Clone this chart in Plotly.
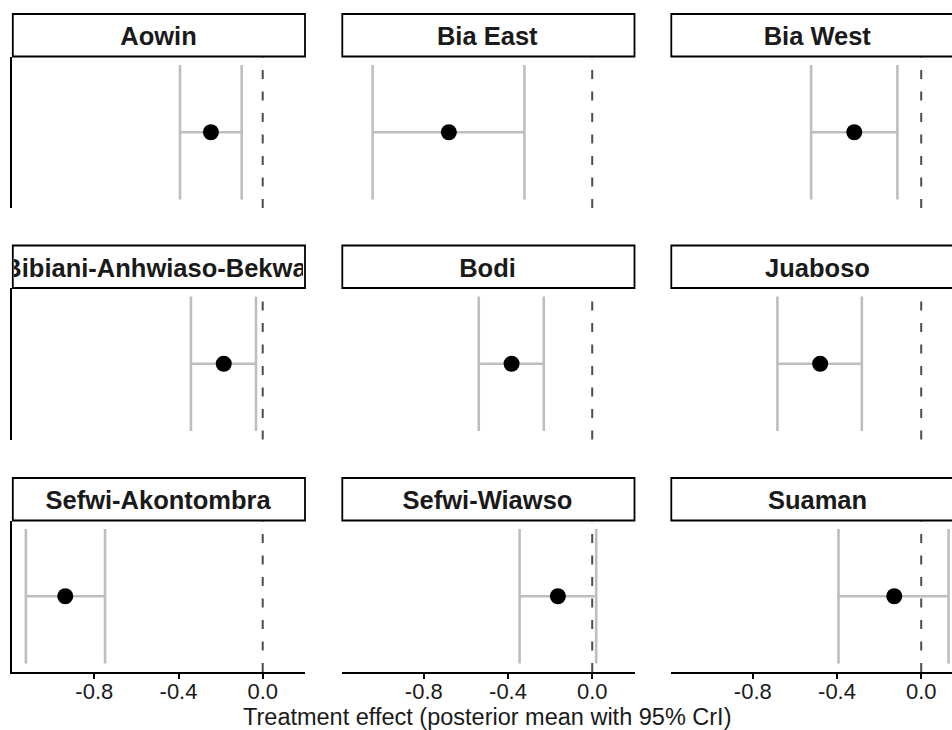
import plotly.graph_objects as go

# ---- data ----
districts = ["Aowin", "Bia East", "Bia West",
             "Bibiani-Anhwiaso-Bekwai", "Bodi", "Juaboso",
             "Sefwi-Akontombra", "Sefwi-Wiawso", "Suaman"]
post_mean = [-0.246, -0.681, -0.318, -0.185, -0.383, -0.480, -0.938, -0.163, -0.128]
ci_lower = [-0.393, -1.043, -0.523, -0.341, -0.539, -0.683, -1.125, -0.345, -0.393]
ci_upper = [-0.100, -0.322, -0.113, -0.032, -0.230, -0.282, -0.749, 0.019, 0.130]
x_tick_vals = [-0.8, -0.4, 0.0]
x_tick_text = ["-0.8", "-0.4", "0.0"]
x_title = "Treatment effect (posterior mean with 95% CrI)"

# ---- layout geometry (pixels) ----
W, H = 952, 730
FONT = "Liberation Sans, Arial, Helvetica, sans-serif"
col_left = [12, 341.5, 670.5]
panel_w = 293
px_per_unit = 210.5
x_min = -1.191
strip_top = [14, 245.5, 478]
strip_h = 42.5
panel_h = 151.5
y_range = [0.437, 1.563]

fig = go.Figure()
shapes = []
annotations = []

for i, name in enumerate(districts):
    r, c = divmod(i, 3)
    n = i + 1
    xa = "x" if n == 1 else f"x{n}"
    ya = "y" if n == 1 else f"y{n}"
    xkey = "xaxis" if n == 1 else f"xaxis{n}"
    ykey = "yaxis" if n == 1 else f"yaxis{n}"

    left = col_left[c]
    right = min(left + panel_w, W)
    x_max = x_min + (right - left) / px_per_unit
    ptop = strip_top[r] + strip_h
    pbot = ptop + panel_h

    fig.add_trace(go.Scatter(
        x=[post_mean[i]], y=[1], mode="markers",
        marker=dict(color="black", size=16),
        error_x=dict(type="data", symmetric=False,
                     array=[ci_upper[i] - post_mean[i]],
                     arrayminus=[post_mean[i] - ci_lower[i]],
                     color="#BEBEBE", thickness=2.6, width=67.3),
        xaxis=xa, yaxis=ya, showlegend=False, hoverinfo="skip"))

    bottom_row = (r == 2)
    fig.layout[xkey] = dict(
        domain=[left / W, right / W], anchor=ya, range=[x_min, x_max],
        showgrid=False, zeroline=False,
        showline=bottom_row, linecolor="black", linewidth=1.7,
        ticks="outside" if bottom_row else "", ticklen=5, tickwidth=1.6, tickcolor="black",
        tickvals=x_tick_vals, ticktext=x_tick_text, showticklabels=bottom_row,
        ticklabelstandoff=-6,
        tickfont=dict(family=FONT, size=22, color="#1a1a1a"))
    fig.layout[ykey] = dict(
        domain=[1 - pbot / H, 1 - ptop / H], anchor=xa, range=y_range,
        showgrid=False, zeroline=False, showticklabels=False, ticks="",
        showline=(c == 0), linecolor="black", linewidth=1.7)

    # reference line at zero
    shapes.append(dict(type="line", xref=xa, yref=f"{ya} domain",
                       x0=0, x1=0, y0=0, y1=1,
                       line=dict(color="#4d4d4d", width=2, dash="9px,12.5px")))
    # strip box
    shapes.append(dict(type="rect", xref="paper", yref="paper",
                       x0=(left + 0.8) / W, x1=(left + panel_w) / W,
                       y0=1 - (strip_top[r] + strip_h) / H, y1=1 - strip_top[r] / H,
                       fillcolor="white", line=dict(color="black", width=1.8)))
    annotations.append(dict(
        text=name, xref="paper", yref="paper",
        x=(left + panel_w / 2) / W, y=1 - (strip_top[r] + strip_h / 2 + 1) / H,
        xanchor="center", yanchor="middle", showarrow=False,
        width=panel_w - 4, align="center",
        font=dict(family=FONT, size=25.5, color="#1a1a1a", weight="bold")))

annotations.append(dict(
    text=x_title, xref="paper", yref="paper",
    x=487.5 / W, y=1 - 717 / H, xanchor="center", yanchor="middle",
    showarrow=False, font=dict(family=FONT, size=23.5, color="#1a1a1a")))

fig.update_layout(
    width=W, height=H, margin=dict(l=0, r=0, t=0, b=0),
    paper_bgcolor="white", plot_bgcolor="white",
    shapes=shapes, annotations=annotations,
    font=dict(family=FONT))

fig.write_html("out.html",
               config={"displayModeBar": False},
               post_script="document.body.style.margin='0';document.body.style.overflow='hidden';")
